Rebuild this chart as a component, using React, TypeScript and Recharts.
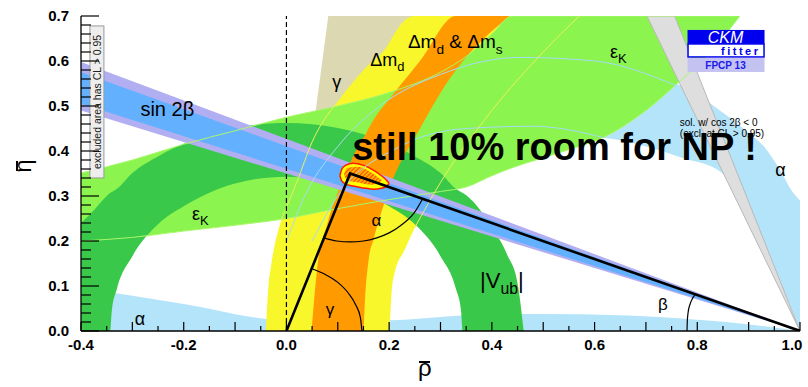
import React from 'react';
import {
  ComposedChart,
  Area,
  Line,
  XAxis,
  YAxis,
  ReferenceLine,
  ReferenceDot,
} from 'recharts';

// axis ticks
const X_TICKS = [-0.4, -0.35, -0.3, -0.25, -0.2, -0.15, -0.1, -0.05, 0, 0.05, 0.1, 0.15, 0.2, 0.25, 0.3, 0.35, 0.4, 0.45, 0.5, 0.55, 0.6, 0.65, 0.7, 0.75, 0.8, 0.85, 0.9, 0.95, 1.0];
const Y_TICKS = [0, 0.02, 0.04, 0.06, 0.08, 0.1, 0.12, 0.14, 0.16, 0.18, 0.2, 0.22, 0.24, 0.26, 0.28, 0.3, 0.32, 0.34, 0.36, 0.38, 0.4, 0.42, 0.44, 0.46, 0.48, 0.5, 0.52, 0.54, 0.56, 0.58, 0.6, 0.62, 0.64, 0.66, 0.68, 0.7];

// constraint bands, {x, lo, hi}
const alphaBottom = [
  { x: -0.4, lo: 0, hi: 0.096 }, { x: -0.2, lo: 0, hi: 0.06 }, { x: 0, lo: 0, hi: 0.024 },
  { x: 0.2, lo: 0, hi: 0.024 }, { x: 0.35, lo: 0, hi: 0.035 }, { x: 0.5, lo: 0, hi: 0.038 },
  { x: 0.65, lo: 0, hi: 0.035 }, { x: 0.8, lo: 0, hi: 0.025 }, { x: 0.935, lo: 0, hi: 0.01 },
  { x: 1.0, lo: 0, hi: 0 },
];
const alphaRight = [
  { x: 0.44, lo: 0.4, hi: 0.4 }, { x: 0.6, lo: 0.43, hi: 0.5 }, { x: 0.7, lo: 0.41, hi: 0.56 },
  { x: 0.77, lo: 0.385, hi: 0.545 }, { x: 0.844, lo: 0.355, hi: 0.49 }, { x: 0.9, lo: 0.26, hi: 0.44 },
  { x: 0.93, lo: 0.2, hi: 0.41 }, { x: 0.96, lo: 0.113, hi: 0.36 }, { x: 0.985, lo: 0.045, hi: 0.31 },
  { x: 1.0, lo: 0, hi: 0.29 },
];
const gammaBand = [
  { x: 0, lo: 0, hi: 0 }, { x: 0.0815, lo: 0.2, hi: 0.7 }, { x: 0.29, lo: 0.7, hi: 0.7 },
];
const dmdBand = [
  { x: -0.04, lo: 0, hi: 0 }, { x: -0.035, lo: 0, hi: 0.1 }, { x: -0.03, lo: 0, hi: 0.144 },
  { x: -0.01, lo: 0, hi: 0.248 }, { x: 0.02, lo: 0, hi: 0.33 }, { x: 0.05, lo: 0, hi: 0.42 },
  { x: 0.1, lo: 0, hi: 0.51 }, { x: 0.15, lo: 0, hi: 0.58 }, { x: 0.2, lo: 0, hi: 0.64 },
  { x: 0.205, lo: 0.09, hi: 0.65 }, { x: 0.21, lo: 0.126, hi: 0.66 }, { x: 0.23, lo: 0.18, hi: 0.69 },
  { x: 0.25, lo: 0.23, hi: 0.7 }, { x: 0.3, lo: 0.33, hi: 0.7 }, { x: 0.4, lo: 0.49, hi: 0.7 },
  { x: 0.5, lo: 0.62, hi: 0.7 }, { x: 0.57, lo: 0.7, hi: 0.7 },
];
const epsKBand = [
  { x: -0.4, lo: 0.2, hi: 0.351 }, { x: -0.3, lo: 0.208, hi: 0.38 }, { x: -0.2, lo: 0.222, hi: 0.415 },
  { x: -0.1, lo: 0.235, hi: 0.445 }, { x: 0, lo: 0.25, hi: 0.475 }, { x: 0.1, lo: 0.272, hi: 0.5 },
  { x: 0.2, lo: 0.292, hi: 0.53 }, { x: 0.3, lo: 0.31, hi: 0.575 }, { x: 0.35, lo: 0.32, hi: 0.61 },
  { x: 0.4, lo: 0.345, hi: 0.66 }, { x: 0.44, lo: 0.363, hi: 0.7 }, { x: 0.5, lo: 0.385, hi: 0.7 },
  { x: 0.55, lo: 0.403, hi: 0.7 }, { x: 0.617, lo: 0.43, hi: 0.7 }, { x: 0.7, lo: 0.49, hi: 0.7 },
  { x: 0.76, lo: 0.549, hi: 0.7 }, { x: 0.83, lo: 0.625, hi: 0.7 }, { x: 0.883, lo: 0.7, hi: 0.7 },
];
const vubBand = [
  { x: -0.4, lo: 0, hi: 0.24 }, { x: -0.38, lo: 0, hi: 0.262 }, { x: -0.35, lo: 0, hi: 0.3 },
  { x: -0.343, lo: 0, hi: 0.307 }, { x: -0.34, lo: 0.045, hi: 0.309 }, { x: -0.33, lo: 0.094, hi: 0.316 },
  { x: -0.3, lo: 0.166, hi: 0.351 }, { x: -0.25, lo: 0.237, hi: 0.388 }, { x: -0.2, lo: 0.277, hi: 0.416 },
  { x: -0.1, lo: 0.328, hi: 0.451 }, { x: 0, lo: 0.343, hi: 0.462 }, { x: 0.1, lo: 0.328, hi: 0.451 },
  { x: 0.2, lo: 0.277, hi: 0.416 }, { x: 0.25, lo: 0.237, hi: 0.388 }, { x: 0.3, lo: 0.166, hi: 0.351 },
  { x: 0.33, lo: 0.094, hi: 0.316 }, { x: 0.34, lo: 0.045, hi: 0.309 }, { x: 0.343, lo: 0, hi: 0.307 },
  { x: 0.4, lo: 0, hi: 0.231 }, { x: 0.43, lo: 0, hi: 0.169 }, { x: 0.45, lo: 0, hi: 0.106 },
  { x: 0.462, lo: 0, hi: 0 },
];
const dmsBand = [
  { x: 0.049, lo: 0, hi: 0 }, { x: 0.06, lo: 0, hi: 0.14 }, { x: 0.08, lo: 0, hi: 0.24 },
  { x: 0.11, lo: 0, hi: 0.335 }, { x: 0.15, lo: 0, hi: 0.43 }, { x: 0.153, lo: 0.07, hi: 0.435 },
  { x: 0.16, lo: 0.158, hi: 0.45 }, { x: 0.17, lo: 0.205, hi: 0.47 }, { x: 0.2, lo: 0.315, hi: 0.515 },
  { x: 0.26, lo: 0.45, hi: 0.6 }, { x: 0.33, lo: 0.58, hi: 0.7 }, { x: 0.38, lo: 0.645, hi: 0.7 },
  { x: 0.435, lo: 0.7, hi: 0.7 },
];
const sin2bOuter = [{ x: -0.4, lo: 0.49, hi: 0.598 }, { x: 1.0, lo: 0, hi: 0 }];
const sin2bInner = [{ x: -0.4, lo: 0.505, hi: 0.575 }, { x: 1.0, lo: 0, hi: 0 }];
const sin2bAlt = [{ x: 0.702, lo: 0.7, hi: 0.7 }, { x: 0.756, lo: 0.573, hi: 0.7 }, { x: 1.0, lo: 0, hi: 0 }];
const fitOuter = [
  { x: 0.104, lo: 0.345, hi: 0.345 }, { x: 0.108, lo: 0.333, hi: 0.36 }, { x: 0.115, lo: 0.327, hi: 0.368 },
  { x: 0.13, lo: 0.322, hi: 0.373 }, { x: 0.15, lo: 0.318, hi: 0.368 }, { x: 0.17, lo: 0.315, hi: 0.357 },
  { x: 0.185, lo: 0.317, hi: 0.345 }, { x: 0.195, lo: 0.322, hi: 0.335 }, { x: 0.2, lo: 0.328, hi: 0.328 },
];
const fitInner = [
  { x: 0.112, lo: 0.347, hi: 0.347 }, { x: 0.118, lo: 0.335, hi: 0.362 }, { x: 0.14, lo: 0.33, hi: 0.365 },
  { x: 0.165, lo: 0.325, hi: 0.352 }, { x: 0.18, lo: 0.33, hi: 0.34 }, { x: 0.186, lo: 0.335, hi: 0.335 },
];

// thin contour lines seen across the bands
const alphaOuterLine = [
  { x: 0.0, y: 0.2 }, { x: 0.04, y: 0.31 }, { x: 0.1, y: 0.41 }, { x: 0.182, y: 0.5 },
  { x: 0.3, y: 0.57 }, { x: 0.455, y: 0.608 }, { x: 0.6, y: 0.6 }, { x: 0.76, y: 0.545 },
];
const alphaInnerLine = [
  { x: 0.05, y: 0.2 }, { x: 0.1, y: 0.3 }, { x: 0.221, y: 0.41 }, { x: 0.35, y: 0.45 },
  { x: 0.48, y: 0.455 }, { x: 0.617, y: 0.43 },
];
const dmdOuterLine = [
  { x: -0.01, y: 0.248 }, { x: 0.02, y: 0.33 }, { x: 0.05, y: 0.42 }, { x: 0.1, y: 0.51 },
];
const dmdInnerLine = [
  { x: 0.25, y: 0.23 }, { x: 0.3, y: 0.33 }, { x: 0.4, y: 0.49 }, { x: 0.5, y: 0.62 }, { x: 0.57, y: 0.7 },
];

// unitarity triangle and angle arcs
const triangle = [{ x: 0, y: 0 }, { x: 0.124, y: 0.35 }, { x: 1.0, y: 0 }];
const gammaArc = [
  { x: 0.049, y: 0.139 }, { x: 0.075, y: 0.126 }, { x: 0.1, y: 0.108 }, { x: 0.12, y: 0.085 },
  { x: 0.135, y: 0.058 }, { x: 0.144, y: 0.03 }, { x: 0.147, y: 0 },
];
const alphaArc = [
  { x: 0.073, y: 0.207 }, { x: 0.098, y: 0.2 }, { x: 0.124, y: 0.198 }, { x: 0.15, y: 0.2 },
  { x: 0.176, y: 0.207 }, { x: 0.2, y: 0.218 }, { x: 0.222, y: 0.234 }, { x: 0.249, y: 0.263 },
  { x: 0.265, y: 0.2935 },
];
const betaArc = [
  { x: 0.78, y: 0 }, { x: 0.7805, y: 0.02 }, { x: 0.782, y: 0.04 }, { x: 0.786, y: 0.06 },
  { x: 0.791, y: 0.073 }, { x: 0.796, y: 0.0816 },
];

const LABELS = [
  { x: -0.232, y: 0.478, size: 20, anchor: 'middle', parts: [{ t: 'sin 2β' }] },
  { x: 0.098, y: 0.54, size: 18, anchor: 'middle', parts: [{ t: 'γ' }] },
  { x: 0.163, y: 0.589, size: 18, parts: [{ t: 'Δm' }, { t: 'd', sub: true }] },
  { x: 0.2365, y: 0.629, size: 19, parts: [{ t: 'Δm' }, { t: 'd', sub: true }, { t: ' & Δm' }, { t: 's', sub: true }] },
  { x: 0.63, y: 0.607, size: 18, parts: [{ t: 'ε' }, { t: 'K', sub: true }] },
  { x: -0.184, y: 0.247, size: 18, parts: [{ t: 'ε' }, { t: 'K', sub: true }] },
  { x: 0.175, y: 0.233, size: 17, anchor: 'middle', parts: [{ t: 'α' }] },
  { x: 0.085, y: 0.036, size: 17, anchor: 'middle', parts: [{ t: 'γ' }] },
  { x: 0.377, y: 0.096, size: 22, parts: [{ t: '|V' }, { t: 'ub', sub: true }, { t: '|' }] },
  { x: 0.733, y: 0.047, size: 17, anchor: 'middle', parts: [{ t: 'β' }] },
  { x: -0.285, y: 0.013, size: 18, anchor: 'middle', parts: [{ t: 'α' }] },
  { x: 0.962, y: 0.344, size: 18, anchor: 'middle', parts: [{ t: 'α' }] },
  { x: 0.766, y: 0.456, size: 10, parts: [{ t: 'sol. w/ cos 2β < 0' }] },
  { x: 0.766, y: 0.431, size: 10, parts: [{ t: '(excl. at CL > 0.95)' }] },
  { x: 0.128, y: 0.38, size: 38, weight: 'bold', parts: [{ t: 'still 10% room for NP !' }] },
];

const FONT = '"Liberation Sans", Arial, Helvetica, sans-serif';
const C = {
  lightBlue: '#b4e4fa',
  lime: '#8cf44e',
  green: '#3ac84a',
  yellow: '#f8f72c',
  orange: '#ff9a00',
  beige: '#dcd8b2',
  sinBlue: '#63b0ff',
  lavender: '#b1aff2',
  gray: '#dedede',
};

const band = (d) => [d.lo, d.hi];

const XTick = ({ x, y, payload, top }) => {
  const v = payload.value;
  const major = Math.abs(v * 10 - Math.round(v * 10)) < 1e-6;
  const labeled = Math.abs(v * 5 - Math.round(v * 5)) < 1e-6;
  const len = major ? 9 : 5;
  return (
    <g>
      <line x1={x} x2={x} y1={y} y2={top ? y + len : y - len} stroke="#000" strokeWidth={1.2} />
      {!top && labeled && (
        <text x={v === 1 ? x - 8 : x} y={y + 19} textAnchor="middle" fontSize={15} fontWeight="bold" fontFamily={FONT} fill="#000">
          {v.toFixed(1)}
        </text>
      )}
    </g>
  );
};

const YTick = ({ x, y, payload, right }) => {
  const v = payload.value;
  const major = Math.abs(v * 10 - Math.round(v * 10)) < 1e-6;
  const len = major ? 18 : 10;
  return (
    <g>
      <line x1={x} x2={right ? x - len : x + len} y1={y} y2={y} stroke="#000" strokeWidth={1.2} />
      {!right && major && (
        <text x={x - 12} y={y + 5} textAnchor="end" fontSize={15} fontWeight="bold" fontFamily={FONT} fill="#000">
          {v.toFixed(1)}
        </text>
      )}
    </g>
  );
};

const Txt = ({ cx, cy, item }) => {
  const { parts, size, anchor = 'start', weight = 'normal' } = item;
  let shift = 0;
  return (
    <text x={cx} y={cy} fontSize={size} textAnchor={anchor} fontWeight={weight} fontFamily={FONT} fill="#000">
      {parts.map((p, i) => {
        const target = p.sub ? size * 0.3 : 0;
        const dy = target - shift;
        shift = target;
        return (
          <tspan key={i} dy={dy} fontSize={p.sub ? size * 0.72 : size}>
            {p.t}
          </tspan>
        );
      })}
    </text>
  );
};

const ExclBox = ({ cx, cy }) => (
  <g transform={`translate(${cx},${cy}) rotate(-90)`}>
    <rect x={-76} y={-7} width={152} height={14} fill="#eeeeee" stroke="#999" strokeWidth={1} />
    <text x={0} y={4} textAnchor="middle" fontSize={10.5} fontFamily={FONT} fill="#222">
      excluded area has CL &gt; 0.95
    </text>
  </g>
);

const Logo = ({ cx, cy }) => (
  <g transform={`translate(${cx},${cy})`}>
    <defs>
      <pattern id="hatch" width="3" height="3" patternUnits="userSpaceOnUse" patternTransform="rotate(45)">
        <rect width="3" height="3" fill="#ffb000" />
        <line x1="0" y1="0" x2="0" y2="3" stroke="#ff2a00" strokeWidth="1.6" />
      </pattern>
    </defs>
    <rect x={0} y={0} width={77} height={14} fill="#0000ee" />
    <text x={38} y={13} textAnchor="middle" fontSize={16} fontStyle="italic" fontFamily={FONT} fill="#fff">CKM</text>
    <rect x={0.5} y={14} width={76} height={13} fill="#fff" stroke="#0000ee" strokeWidth={1.5} />
    <text x={73} y={25} textAnchor="end" fontSize={11} fontWeight="bold" letterSpacing={2.5} fontFamily={FONT} fill="#0000ee">fitter</text>
    <rect x={0} y={28} width={77} height={14} fill="#c4c2f0" />
    <text x={38} y={39} textAnchor="middle" fontSize={10} fontWeight="bold" fontFamily={FONT} fill="#1a1aee">FPCP 13</text>
  </g>
);

const bandArea = (key, data, fill, type = 'monotone', stroke = 'none', sw = 0) => (
  <Area
    key={key}
    data={data}
    dataKey={band}
    type={type}
    fill={fill}
    fillOpacity={1}
    stroke={stroke}
    strokeWidth={sw}
    isAnimationActive={false}
    dot={false}
    activeDot={false}
  />
);

const thinLine = (key, data, color) => (
  <Line key={key} data={data} dataKey="y" type="monotone" stroke={color} strokeWidth={1} dot={false} activeDot={false} isAnimationActive={false} />
);

const Barred = ({ ch, size }) => (
  <span style={{ position: 'relative', display: 'inline-block', fontSize: size, lineHeight: 1, fontFamily: FONT }}>
    {ch}
    <span style={{ position: 'absolute', left: '10%', right: '10%', top: '0.2em', borderTop: '2px solid #000' }} />
  </span>
);

export default function App() {
  return (
    <div style={{ position: 'absolute', left: 0, top: 0, width: 808, height: 387, background: '#fff' }}>
      <ComposedChart width={808} height={387} margin={{ top: 16, right: 8, bottom: 0, left: 0 }} style={{ fontFamily: FONT }}>
        <XAxis
          dataKey="x"
          type="number"
          domain={[-0.4, 1.0]}
          ticks={X_TICKS}
          interval={0}
          allowDataOverflow
          height={56}
          tickSize={0}
          tickMargin={0}
          tickLine={false}
          axisLine={{ stroke: '#000', strokeWidth: 1.3 }}
          tick={(p) => <XTick {...p} />}
        />
        <XAxis
          xAxisId="top"
          orientation="top"
          type="number"
          domain={[-0.4, 1.0]}
          ticks={X_TICKS}
          interval={0}
          allowDataOverflow
          height={0}
          tickSize={0}
          tickMargin={0}
          tickLine={false}
          axisLine={{ stroke: '#000', strokeWidth: 1.3 }}
          tick={(p) => <XTick {...p} top />}
        />
        <YAxis
          type="number"
          domain={[0, 0.7]}
          ticks={Y_TICKS}
          interval={0}
          allowDataOverflow
          width={81}
          tickSize={0}
          tickMargin={0}
          tickLine={false}
          axisLine={{ stroke: '#000', strokeWidth: 1.3 }}
          tick={(p) => <YTick {...p} />}
        />
        <YAxis
          yAxisId="right"
          orientation="right"
          type="number"
          domain={[0, 0.7]}
          ticks={Y_TICKS}
          interval={0}
          allowDataOverflow
          width={0}
          tickSize={0}
          tickMargin={0}
          tickLine={false}
          axisLine={{ stroke: '#000', strokeWidth: 1.3 }}
          tick={(p) => <YTick {...p} right />}
        />

        {bandArea('aBottom', alphaBottom, C.lightBlue)}
        {bandArea('aRight', alphaRight, C.lightBlue)}
        {bandArea('gamma', gammaBand, C.beige, 'linear')}
        {bandArea('dmd', dmdBand, C.yellow)}
        {bandArea('epsK', epsKBand, C.lime)}
        {bandArea('vub', vubBand, C.green)}
        {bandArea('dms', dmsBand, C.orange)}

        <Line data={epsKBand} dataKey="lo" type="monotone" stroke="#a9f86c" strokeWidth={1} dot={false} isAnimationActive={false} />
        <Line data={epsKBand} dataKey="hi" type="monotone" stroke="#a9f86c" strokeWidth={1} dot={false} isAnimationActive={false} />
        {thinLine('aOut', alphaOuterLine, '#a6dcf5')}
        {thinLine('aIn', alphaInnerLine, '#a6dcf5')}
        {thinLine('dOut', dmdOuterLine, '#eef05a')}
        {thinLine('dIn', dmdInnerLine, '#eef05a')}

        {bandArea('s2bOuter', sin2bOuter, C.lavender, 'linear')}
        {bandArea('s2bInner', sin2bInner, C.sinBlue, 'linear')}
        {bandArea('s2bAlt', sin2bAlt, C.gray, 'linear', '#b8b8b8', 1)}

        {bandArea('fitOuter', fitOuter, '#ffff00', 'monotone', '#ff1a00', 1.5)}
        {bandArea('fitInner', fitInner, 'url(#hatch)', 'monotone')}

        <ReferenceLine x={0} stroke="#000" strokeWidth={1.2} strokeDasharray="5 3" />

        <Line data={triangle} dataKey="y" type="linear" stroke="#000" strokeWidth={2.6} dot={false} isAnimationActive={false} />
        <Line data={gammaArc} dataKey="y" type="monotone" stroke="#000" strokeWidth={1.2} dot={false} isAnimationActive={false} />
        <Line data={alphaArc} dataKey="y" type="monotone" stroke="#000" strokeWidth={1.2} dot={false} isAnimationActive={false} />
        <Line data={betaArc} dataKey="y" type="monotone" stroke="#000" strokeWidth={1.2} dot={false} isAnimationActive={false} />

        {LABELS.map((l, i) => (
          <ReferenceDot key={'l' + i} x={l.x} y={l.y} r={0} ifOverflow="visible" shape={(p) => <Txt cx={p.cx} cy={p.cy} item={l} />} />
        ))}
        <ReferenceDot x={-0.369} y={0.509} r={0} ifOverflow="visible" shape={(p) => <ExclBox cx={p.cx} cy={p.cy} />} />
        <ReferenceDot x={0.781} y={0.669} r={0} ifOverflow="visible" shape={(p) => <Logo cx={p.cx} cy={p.cy} />} />
      </ComposedChart>
      <div style={{ position: 'absolute', left: 11, top: 154, width: 24, height: 24, display: 'flex', alignItems: 'center', justifyContent: 'center', transform: 'rotate(-90deg)' }}>
        <Barred ch="η" size={24} />
      </div>
      <div style={{ position: 'absolute', left: 418, top: 356 }}>
        <Barred ch="ρ" size={24} />
      </div>
    </div>
  );
}
